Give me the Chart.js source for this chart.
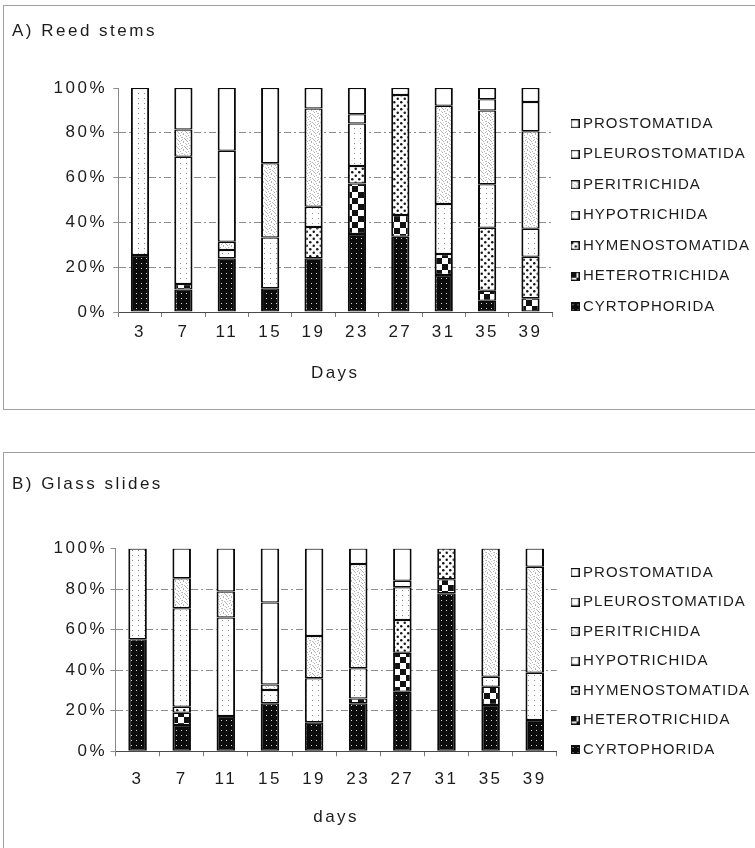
<!DOCTYPE html>
<html>
<head>
<meta charset="utf-8">
<title>Ciliate orders on reed stems and glass slides</title>
<script src="https://cdn.jsdelivr.net/npm/chart.js@4.4.1/dist/chart.umd.min.js"></script>
<style>
  html, body { margin: 0; padding: 0; background: #fff; width: 755px; height: 848px; overflow: hidden; }
  .panel { position: absolute; left: 3px; width: 756px; border: 1px solid #a0a0a0; background: #fff; }
  #panelA { top: 5px; height: 403px; }
  #panelB { top: 452px; height: 397px; }
  canvas { display: block; }
</style>
</head>
<body>
<div class="panel" id="panelA"><canvas id="chartA" width="756" height="403"></canvas></div>
<div class="panel" id="panelB"><canvas id="chartB" width="756" height="397"></canvas></div>
<script>
// Sampling days
const days = ['3', '7', '11', '15', '19', '23', '27', '31', '35', '39'];

// Ciliate orders, stacked from the bottom of each bar upwards
const taxa = ['CYRTOPHORIDA', 'HETEROTRICHIDA', 'HYMENOSTOMATIDA', 'HYPOTRICHIDA',
              'PERITRICHIDA', 'PLEUROSTOMATIDA', 'PROSTOMATIDA'];

// A) Reed stems, % of individuals
const reedCyrtophorida    = [25.4, 10.0, 24.0, 10.6, 24.0, 34.8, 33.6, 16.5,  5.0,  0.0];
const reedHeterotrichida  = [ 0.0,  2.5,  0.0,  0.0,  0.0, 22.6,  9.7,  9.4,  4.5,  6.1];
const reedHymenostomatida = [ 0.0,  0.0,  0.0,  0.0, 14.0,  7.8, 53.6,  0.0, 28.1, 18.6];
const reedHypotrichida    = [74.6, 56.8,  3.7, 22.7,  9.0, 19.0,  0.0, 22.3, 19.4, 12.5];
const reedPeritrichida    = [ 0.0, 12.2,  3.7, 33.1, 43.8,  0.0,  0.0, 43.9, 32.9, 43.5];
const reedPleurostomatida = [ 0.0,  0.0, 40.6,  0.0,  0.0,  4.1,  0.0,  0.0,  5.1, 13.1];
const reedProstomatida    = [ 0.0, 18.5, 28.0, 33.6,  9.2, 11.7,  3.1,  7.9,  5.0,  6.2];

// B) Glass slides, % of individuals
const glassCyrtophorida    = [55.3, 13.0, 17.4, 23.7, 14.3, 23.7, 29.4, 78.0, 22.9, 15.5];
const glassHeterotrichida  = [ 0.0,  6.0,  0.0,  0.0,  0.0,  2.4, 19.2,  6.9,  9.0,  0.0];
const glassHymenostomatida = [ 0.0,  3.0,  0.0,  0.0,  0.0,  0.0, 16.2, 15.1,  0.0,  0.0];
const glassHypotrichida    = [44.7, 48.6, 48.6,  6.5, 21.7, 14.9, 16.1,  0.0,  4.9, 23.3];
const glassPeritrichida    = [ 0.0, 14.8, 12.8,  2.8, 20.9, 51.4,  0.0,  0.0, 63.2, 52.2];
const glassPleurostomatida = [ 0.0,  0.0,  0.0, 40.4,  0.0,  0.0,  3.3,  0.0,  0.0,  0.0];
const glassProstomatida    = [ 0.0, 14.6, 21.2, 26.6, 43.1,  7.6, 15.8,  0.0,  0.0,  9.0];

// Y axis ticks
const percentTicks = [0, 20, 40, 60, 80, 100];

// ---------------------------------------------------------------------------
const FAMILY = "'Liberation Sans', Arial, Helvetica, sans-serif";
const AXIS_SPACING = '2.5px';
const LEGEND_SPACING = '1px';
const TEXT_SIZE = 17;
const LEGEND_SIZE = 15;
const INK = '#1c1c1c';

Chart.defaults.font.family = FAMILY;
Chart.defaults.color = INK;

// Fill textures for the orders (small repeating tiles)
function makeTile(w, h, paint) {
  const c = document.createElement('canvas');
  c.width = w; c.height = h;
  paint(c.getContext('2d'), w, h);
  return c;
}
function dots(g, pts, color, size) {
  g.fillStyle = color;
  pts.forEach(([x, y]) => g.fillRect(x, y, size, size));
}
const tiles = [
  // black with pale dots
  makeTile(5, 5, (g, w, h) => { g.fillStyle = '#0c0c0c'; g.fillRect(0, 0, w, h); dots(g, [[2, 2]], '#d6d6d6', 1); }),
  // checkerboard
  makeTile(12, 12, (g, w, h) => { g.fillStyle = '#fff'; g.fillRect(0, 0, w, h); g.fillStyle = '#121212'; g.fillRect(0, 0, 6, 6); g.fillRect(6, 6, 6, 6); }),
  // coarse black dots
  makeTile(7, 7, (g, w, h) => {
    g.fillStyle = '#fff'; g.fillRect(0, 0, w, h); g.fillStyle = '#161616';
    [[1.75, 1.75], [5.25, 5.25]].forEach(([x, y]) => { g.beginPath(); g.arc(x, y, 1.25, 0, Math.PI * 2); g.fill(); });
  }),
  // sparse fine dots
  makeTile(6, 5, (g, w, h) => { g.fillStyle = '#fff'; g.fillRect(0, 0, w, h); dots(g, [[2, 2]], '#8c8c8c', 1); }),
  // light grey stipple
  makeTile(8, 8, (g, w, h) => {
    g.fillStyle = '#fff'; g.fillRect(0, 0, w, h);
    dots(g, [[0, 1], [3, 0], [6, 2], [2, 3], [5, 5], [1, 6], [7, 7], [4, 4], [6, 6], [3, 7]], '#b4b4b4', 1);
    dots(g, [[1, 3], [5, 1], [7, 4], [2, 5]], '#cfcfcf', 1);
  }),
  // plain white
  makeTile(4, 4, (g, w, h) => { g.fillStyle = '#fff'; g.fillRect(0, 0, w, h); }),
  makeTile(4, 4, (g, w, h) => { g.fillStyle = '#fff'; g.fillRect(0, 0, w, h); })
];

// Legend key boxes
const legendIcons = tiles.map(t => makeTile(9, 9, (g, w, h) => {
  g.fillStyle = g.createPattern(t, 'repeat');
  g.fillRect(0, 0, w, h);
  g.strokeStyle = '#111'; g.lineWidth = 1.2;
  g.strokeRect(0.6, 0.6, w - 1.2, h - 1.2);
}));

function measure(text, size, spacing) {
  const g = document.createElement('canvas').getContext('2d');
  g.font = Chart.helpers.toFont({ size, family: FAMILY }).string;
  g.letterSpacing = spacing;
  return g.measureText(text).width;
}

// Letter spacing for the axis text and legend text
const textSpacing = {
  id: 'textSpacing',
  beforeLayout(chart) {
    chart.ctx.letterSpacing = AXIS_SPACING;
    const lg = chart.legend;
    if (lg && !lg._spaced) {
      lg._spaced = true;
      ['fit', 'draw'].forEach(m => {
        const base = lg[m];
        lg[m] = function () {
          const c = chart.ctx, prev = c.letterSpacing;
          c.letterSpacing = LEGEND_SPACING;
          const r = base.apply(this, arguments);
          c.letterSpacing = prev;
          return r;
        };
      });
    }
  },
  beforeDraw(chart) { chart.ctx.letterSpacing = AXIS_SPACING; }
};

function buildChart(canvas, title, axisTitle, series, geo) {
  const W = canvas.width, H = canvas.height;
  const lh = TEXT_SIZE * 1.2;
  const tickLen = 5;
  const P = geo.legendStep - LEGEND_SIZE;
  const keyW = 1;

  const padTop = Math.max(0, 2 * (geo.legendFirstY - LEGEND_SIZE / 2) - P - H + taxa.length * (LEGEND_SIZE + P));
  const titlePadTop = Math.max(0, geo.titleY - padTop - lh / 2);
  const titlePadBottom = geo.plotTop - (padTop + titlePadTop + lh);

  const longest = Math.max(...taxa.map(t => measure(t, LEGEND_SIZE, LEGEND_SPACING)));
  const legendWidth = P + keyW + LEGEND_SIZE / 2 + longest + 10;
  let legendLeft = geo.legendTextX - P - keyW - LEGEND_SIZE / 2;
  let padRight = W - legendLeft - legendWidth;
  if (padRight < 0) { padRight = 0; legendLeft = W - legendWidth; }
  const gapRight = Math.max(0, legendLeft - geo.plotRight);

  const xPad = geo.xLabelY - geo.plotBottom - tickLen - lh / 2;

  const ctx = canvas.getContext('2d');
  const datasets = taxa.map((name, i) => ({
    label: name,
    data: series[i],
    backgroundColor: ctx.createPattern(tiles[i], 'repeat'),
    borderColor: '#0a0a0a',
    borderWidth: { left: 2, right: 2, top: 1.25, bottom: 1.25 },
    borderSkipped: false,
    inflateAmount: 0,
    categoryPercentage: 1,
    barPercentage: geo.barFrac
  }));

  return new Chart(canvas, {
    type: 'bar',
    data: { labels: days, datasets },
    plugins: [textSpacing],
    options: {
      responsive: false,
      animation: false,
      devicePixelRatio: 1,
      events: [],
      layout: { padding: { top: padTop, left: geo.titleX, right: padRight, bottom: 0 } },
      plugins: {
        tooltip: { enabled: false },
        title: {
          display: true, text: title, align: 'start', color: INK,
          font: { size: TEXT_SIZE, weight: 'normal', family: FAMILY },
          padding: { top: titlePadTop, bottom: titlePadBottom }
        },
        legend: {
          position: 'right', align: 'center', reverse: true, fullSize: true,
          maxWidth: 320,
          labels: {
            usePointStyle: true, pointStyleWidth: keyW, boxHeight: 9,
            padding: P, color: INK,
            font: { size: LEGEND_SIZE, family: FAMILY },
            generateLabels: chart => chart.data.datasets.map((ds, i) => ({
              text: ds.label, pointStyle: legendIcons[i], datasetIndex: i,
              hidden: false, lineWidth: 0, fontColor: INK
            }))
          }
        }
      },
      scales: {
        x: {
          stacked: true,
          grid: { offset: true, drawOnChartArea: false, drawTicks: true, tickLength: tickLen, color: '#7a7a7a' },
          border: { display: true, color: '#4a4a4a', width: 1 },
          ticks: { padding: xPad, color: INK, font: { size: TEXT_SIZE, family: FAMILY } },
          title: {
            display: true, text: axisTitle, color: INK,
            font: { size: TEXT_SIZE, family: FAMILY },
            padding: { top: 0, bottom: H - geo.xTitleY - lh / 2 }
          },
          afterFit(s) { s.height = H - geo.plotBottom; }
        },
        y: {
          stacked: true, min: 0, max: 100,
          afterBuildTicks(s) { s.ticks = percentTicks.map(v => ({ value: v })); },
          grid: {
            drawTicks: true, tickLength: tickLen,
            color: c => (c.tick && (c.tick.value === 0 || c.tick.value === 100)) ? 'rgba(0,0,0,0)' : '#8e8e8e',
            tickColor: '#8e8e8e', tickBorderDash: []
          },
          border: { display: true, color: '#8a8a8a', width: 1, dash: [7, 3, 2, 3] },
          ticks: {
            padding: geo.plotLeft - tickLen - geo.yLabelRight, color: INK,
            font: { size: TEXT_SIZE, family: FAMILY },
            callback: v => v + '%'
          },
          afterFit(s) { s.width = geo.plotLeft - geo.titleX; }
        },
        gap: {
          type: 'linear', position: 'right', display: true,
          grid: { display: false, drawTicks: false },
          border: { display: false },
          ticks: { display: false },
          afterFit(s) { s.width = gapRight; }
        }
      }
    }
  });
}

buildChart(document.getElementById('chartA'), 'A) Reed stems', 'Days',
  [reedCyrtophorida, reedHeterotrichida, reedHymenostomatida, reedHypotrichida,
   reedPeritrichida, reedPleurostomatida, reedProstomatida],
  { titleX: 8, titleY: 23.5, plotTop: 82, plotBottom: 306, plotLeft: 114.3, plotRight: 548.2,
    yLabelRight: 103, xLabelY: 326, xTitleY: 367, legendTextX: 579, legendFirstY: 117.7,
    legendStep: 30.5, barFrac: 0.42 });

buildChart(document.getElementById('chartB'), 'B) Glass slides', 'days',
  [glassCyrtophorida, glassHeterotrichida, glassHymenostomatida, glassHypotrichida,
   glassPeritrichida, glassPleurostomatida, glassProstomatida],
  { titleX: 8, titleY: 31.5, plotTop: 95.6, plotBottom: 298.3, plotLeft: 111.5, plotRight: 552.8,
    yLabelRight: 103, xLabelY: 326, xTitleY: 364, legendTextX: 586, legendFirstY: 119.5,
    legendStep: 29.5, barFrac: 0.42 });
</script>
</body>
</html>
